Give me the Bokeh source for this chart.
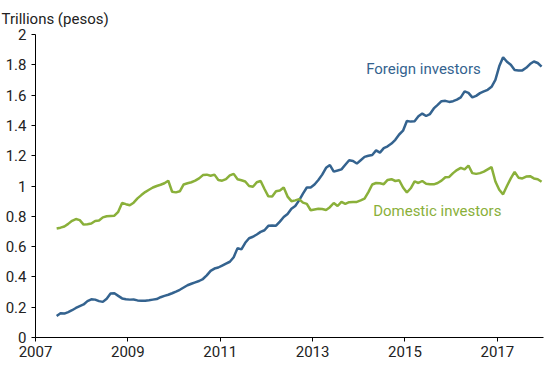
import numpy as np
from bokeh.plotting import figure
from bokeh.models import Label, FixedTicker, Title
from bokeh.embed import file_html
from bokeh.resources import INLINE

# Monthly observations, starting mid-2007
start_year = 2007
start_month_offset = 5.5  # months after Jan 2007 of first observation

foreign = [
    0.142, 0.160, 0.158, 0.168, 0.180, 0.195, 0.207, 0.218, 0.240, 0.252,
    0.250, 0.240, 0.235, 0.256, 0.290, 0.292, 0.275, 0.258, 0.252, 0.250,
    0.251, 0.245, 0.243, 0.243, 0.246, 0.250, 0.254, 0.266, 0.275, 0.282,
    0.292, 0.303, 0.315, 0.330, 0.345, 0.355, 0.364, 0.373, 0.386, 0.410,
    0.440, 0.455, 0.462, 0.475, 0.488, 0.500, 0.530, 0.590, 0.582, 0.625,
    0.655, 0.665, 0.680, 0.697, 0.708, 0.737, 0.740, 0.738, 0.765, 0.795,
    0.815, 0.850, 0.868, 0.905, 0.950, 0.990, 0.990, 1.010, 1.040, 1.075,
    1.120, 1.138, 1.095, 1.102, 1.110, 1.140, 1.170, 1.165, 1.148, 1.170,
    1.192, 1.200, 1.205, 1.235, 1.220, 1.250, 1.262, 1.280, 1.305, 1.340,
    1.365, 1.429, 1.425, 1.428, 1.460, 1.478, 1.462, 1.475, 1.512, 1.535,
    1.560, 1.562, 1.555, 1.560, 1.570, 1.585, 1.625, 1.615, 1.585, 1.595,
    1.613, 1.625, 1.635, 1.655, 1.700, 1.790, 1.850, 1.820, 1.800, 1.765,
    1.763, 1.763, 1.780, 1.805, 1.822, 1.812, 1.788,
]

domestic = [
    0.720, 0.725, 0.733, 0.750, 0.770, 0.782, 0.775, 0.745, 0.748, 0.752,
    0.769, 0.772, 0.793, 0.800, 0.802, 0.804, 0.830, 0.888, 0.880, 0.873,
    0.890, 0.918, 0.940, 0.960, 0.975, 0.990, 1.000, 1.008, 1.018, 1.035,
    0.962, 0.958, 0.965, 1.010, 1.018, 1.025, 1.035, 1.050, 1.072, 1.075,
    1.068, 1.075, 1.040, 1.035, 1.045, 1.070, 1.080, 1.045, 1.038, 1.030,
    1.000, 0.995, 1.025, 1.033, 0.980, 0.932, 0.930, 0.965, 0.970, 0.990,
    0.930, 0.900, 0.905, 0.913, 0.890, 0.882, 0.840, 0.845, 0.850, 0.848,
    0.842, 0.860, 0.888, 0.868, 0.895, 0.882, 0.893, 0.895, 0.895, 0.905,
    0.917, 0.960, 1.010, 1.020, 1.018, 1.012, 1.040, 1.045, 1.033, 1.038,
    0.990, 0.957, 0.985, 1.030, 1.020, 1.033, 1.015, 1.011, 1.011, 1.020,
    1.035, 1.058, 1.060, 1.085, 1.105, 1.120, 1.110, 1.135, 1.085, 1.080,
    1.085, 1.095, 1.110, 1.125, 1.030, 0.975, 0.945, 1.000, 1.050, 1.093,
    1.055, 1.050, 1.062, 1.065, 1.050, 1.045, 1.028,
]

x_ticks = [2007, 2009, 2011, 2013, 2015, 2017]
y_ticks = [0, 0.2, 0.4, 0.6, 0.8, 1, 1.2, 1.4, 1.6, 1.8, 2]
y_tick_labels = ["0", "0.2", "0.4", "0.6", "0.8", "1", "1.2", "1.4", "1.6", "1.8", "2"]

series_names = ["Foreign investors", "Domestic investors"]
y_axis_title = "Trillions (pesos)"

years = start_year + (np.arange(len(foreign)) + start_month_offset) / 12.0

BLUE = "#34638f"
GREEN = "#8ab03a"
FONT = "Roboto"

p = figure(width=550, height=365, x_range=(2007, 2018), y_range=(0, 2),
           output_backend="svg", toolbar_location=None,
           min_border_left=35, min_border_right=7, min_border_top=34,
           min_border_bottom=28)
p.styles = {"position": "absolute", "left": "0px", "top": "0px"}
p.outline_line_color = None
p.xgrid.grid_line_color = None
p.ygrid.grid_line_color = None
p.background_fill_color = "white"
p.border_fill_color = "white"

p.line(years, foreign, line_color=BLUE, line_width=2.5)
p.line(years, domestic, line_color=GREEN, line_width=2.5)

for ax in (p.xaxis[0], p.yaxis[0]):
    ax.axis_line_color = "black"
    ax.major_tick_line_color = "black"
    ax.minor_tick_line_color = None
    ax.major_tick_in = 0
    ax.major_tick_out = 4
    ax.major_label_text_font = FONT
    ax.major_label_text_font_size = "15px"
    ax.major_label_text_color = "#222222"

p.xaxis.ticker = FixedTicker(ticks=x_ticks)
p.xaxis.major_label_standoff = 4
p.yaxis.ticker = FixedTicker(ticks=y_ticks)
p.yaxis.major_label_overrides = {t: l for t, l in zip(y_ticks, y_tick_labels)}
p.yaxis.major_label_standoff = 5

title = Title(text=y_axis_title, align="left", offset=-34, standoff=9,
              vertical_align="top",
              text_font=FONT, text_font_size="15px", text_font_style="normal",
              text_color="#222222")
p.add_layout(title, "above")

p.add_layout(Label(x=2015.40, y=1.769, text=series_names[0], text_align="center",
                   text_baseline="middle", text_font=FONT,
                   text_font_size="15px", text_color=BLUE))
p.add_layout(Label(x=2015.70, y=0.836, text=series_names[1], text_align="center",
                   text_baseline="middle", text_font=FONT,
                   text_font_size="15px", text_color=GREEN))

open("out.html", "w").write(file_html(p, INLINE))
